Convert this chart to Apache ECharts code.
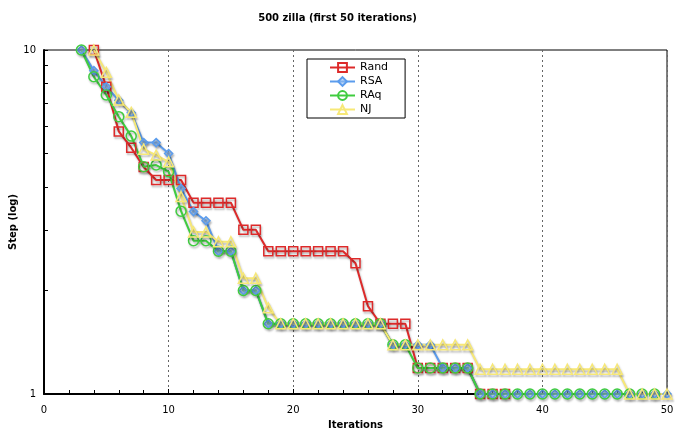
<!DOCTYPE html>
<html>
<head>
<meta charset="utf-8">
<script src="https://cdn.jsdelivr.net/npm/echarts@6/dist/echarts.min.js"></script>
<style>
html,body{margin:0;padding:0;background:#fff;}
#chart{width:675px;height:431px;}
</style>
</head>
<body>
<div id="chart"></div>
<script>
// ---- data ----
var seriesNames = ['Rand', 'RSA', 'RAq', 'NJ'];
var xTicks = [0, 10, 20, 30, 40, 50];
var yTickLabels = [1, 10];
var yTickValues = [1, 2, 3, 4, 5, 6, 7, 8, 9, 10];

var randStart = 4;
var randVals = [10, 7.82, 5.8, 5.2, 4.57, 4.19, 4.19, 4.19, 3.6, 3.6, 3.6, 3.6, 3.0, 3.0,
  2.6, 2.6, 2.6, 2.6, 2.6, 2.6, 2.6, 2.4, 1.8, 1.6, 1.6, 1.6,
  1.19, 1.19, 1.19, 1.19, 1.19, 1, 1, 1];

var rsaStart = 3;
var rsaVals = [10, 8.71, 7.82, 7.14, 6.57, 5.38, 5.38, 5.0, 3.96, 3.39, 3.19, 2.6, 2.6, 2.0, 2.0,
  1.6, 1.6, 1.6, 1.6, 1.6, 1.6, 1.6, 1.6, 1.6, 1.6,
  1.39, 1.39, 1.39, 1.39, 1.19, 1.19, 1.19,
  1, 1, 1, 1, 1, 1, 1, 1, 1, 1, 1, 1, 1, 1, 1, 1];

var raqStart = 3;
var raqVals = [10, 8.36, 7.4, 6.4, 5.62, 4.58, 4.63, 4.43, 3.4, 2.79, 2.79, 2.6, 2.6, 2.0, 2.0,
  1.6, 1.6, 1.6, 1.6, 1.6, 1.6, 1.6, 1.6, 1.6, 1.6,
  1.39, 1.39, 1.19, 1.19, 1.19, 1.19, 1.19,
  1, 1, 1, 1, 1, 1, 1, 1, 1, 1, 1, 1, 1, 1, 1];

var njStart = 4;
var njVals = [10, 8.61, 7.16, 6.59, 5.15, 4.95, 4.73, 3.75, 2.96, 2.96, 2.77, 2.77, 2.17, 2.17, 1.78,
  1.6, 1.6, 1.6, 1.6, 1.6, 1.6, 1.6, 1.6, 1.6,
  1.39, 1.39, 1.39, 1.39, 1.39, 1.39, 1.39,
  1.18, 1.18, 1.18, 1.18, 1.18, 1.18, 1.18, 1.18, 1.18, 1.18, 1.18, 1.18,
  1, 1, 1, 1];

function toPairs(start, vals) {
  return vals.map(function (v, i) { return [start + i, v]; });
}

var FONT = 'DejaVu Sans';
var shadow = { shadowColor: 'rgba(0,0,0,0.28)', shadowBlur: 2, shadowOffsetX: 1, shadowOffsetY: 2 };

function mkSeries(name, data, color, symbol, size, fill) {
  return {
    name: name,
    type: 'line',
    data: data,
    symbol: symbol,
    symbolSize: size,
    showAllSymbol: true,
    color: color,
    lineStyle: Object.assign({ color: color, width: 2 }, shadow),
    itemStyle: Object.assign({ color: fill, borderColor: color, borderWidth: 1.5 }, shadow),
    emphasis: { disabled: true },
    animation: false
  };
}

var chart = echarts.init(document.getElementById('chart'), null, { renderer: 'canvas' });
chart.setOption({
  animation: false,
  backgroundColor: '#fff',
  title: {
    text: '500 zilla (first 50 iterations)',
    left: 'center',
    top: 8,
    textStyle: { fontFamily: FONT, fontSize: 10, fontWeight: 'bold', color: '#000' }
  },
  legend: {
    data: seriesNames,
    orient: 'vertical',
    left: 307,
    top: 59,
    padding: [3, 17, 3, 22],
    itemGap: 3,
    itemWidth: 25,
    itemHeight: 11,
    borderColor: '#000',
    borderWidth: 1,
    backgroundColor: '#fff',
    textStyle: { fontFamily: FONT, fontSize: 11, color: '#000' }
  },
  grid: {
    left: 44, right: 8, top: 50, bottom: 37,
    outerBoundsMode: 'none',
    containLabel: false,
    show: true, borderColor: '#000', borderWidth: 1, backgroundColor: 'transparent'
  },
  xAxis: {
    type: 'value',
    min: 0, max: 50, interval: 10,
    name: 'Iterations',
    nameLocation: 'middle',
    nameGap: 26,
    nameMoveOverlap: false,
    nameTextStyle: { fontFamily: FONT, fontSize: 10, fontWeight: 'bold', color: '#000' },
    axisLine: { show: true, lineStyle: { color: '#000', width: 2 } },
    axisTick: { show: true, inside: true, length: 5, lineStyle: { color: '#000' } },
    minorTick: { show: true, splitNumber: 5, length: 4, lineStyle: { color: '#000' } },
    axisLabel: { fontFamily: FONT, fontSize: 10, color: '#000', margin: 11 },
    splitLine: { show: true, lineStyle: { color: '#666', type: [2, 3], width: 1 } }
  },
  yAxis: {
    type: 'log',
    logBase: 10,
    min: 1, max: 10,
    name: 'Step (log)',
    nameLocation: 'middle',
    nameGap: 26,
    nameMoveOverlap: false,
    nameTextStyle: { fontFamily: FONT, fontSize: 10, fontWeight: 'bold', color: '#000' },
    axisLine: { show: true, lineStyle: { color: '#000', width: 2 } },
    axisTick: { show: true, inside: true, length: 4, customValues: yTickValues, lineStyle: { color: '#000' } },
    axisLabel: { fontFamily: FONT, fontSize: 10, color: '#000', margin: 8, customValues: yTickLabels },
    splitLine: { show: false }
  },
  series: [
    mkSeries('Rand', toPairs(randStart, randVals), '#dd2a2a', 'rect', 9, 'rgba(255,255,255,0)'),
    mkSeries('RSA', toPairs(rsaStart, rsaVals), '#5b9ced', 'diamond', 8, 'rgba(150,190,240,0.6)'),
    mkSeries('RAq', toPairs(raqStart, raqVals), '#3fcc3f', 'circle', 10, 'rgba(255,255,255,0)'),
    mkSeries('NJ', toPairs(njStart, njVals), '#f7e877', 'triangle', 10, 'rgba(255,255,255,0)')
  ]
});
</script>
</body>
</html>
